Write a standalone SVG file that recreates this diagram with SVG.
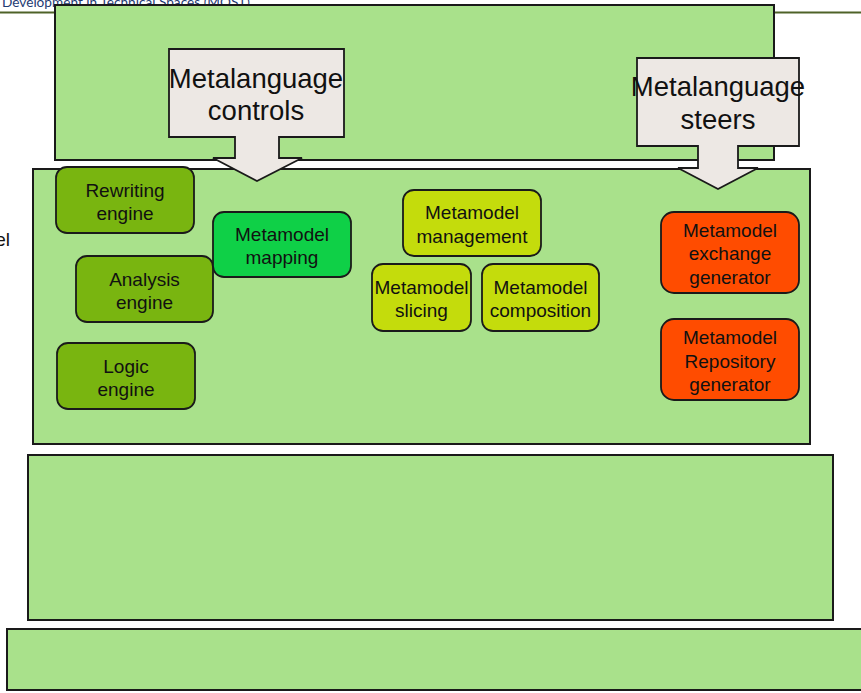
<svg xmlns="http://www.w3.org/2000/svg" width="861" height="693" viewBox="0 0 861 693">
<style>
  .layer { fill: #a9e18b; stroke: #1a1a1a; stroke-width: 2; }
  .node rect { stroke: #1a1a1a; stroke-width: 1.8; }
  .node text, .lbl { font-family: "Liberation Sans", Arial, sans-serif; font-size: 19px; fill: #111; text-anchor: middle; }
  .eng rect { fill: #79b510; }
  .map rect { fill: #0fd047; }
  .mm rect { fill: #c4dc0c; }
  .gen rect { fill: #ff4c00; }
  .callout path { fill: #ede8e4; stroke: #1a1a1a; stroke-width: 1.8; }
  .callout text { font-family: "Liberation Sans", Arial, sans-serif; font-size: 27.5px; fill: #111; text-anchor: middle; }
</style>
<rect x="0" y="0" width="861" height="693" fill="#ffffff"/>
<g id="header">
  <line x1="0" y1="12.5" x2="861" y2="12.5" stroke="#4f6228" stroke-width="2"/>
  <text x="2" y="7" font-family="Lato, 'Open Sans', sans-serif" font-size="12.5" fill="#1f3b73" textLength="248" lengthAdjust="spacingAndGlyphs">Development in Technical Spaces (MOST)</text>
  <text x="10" y="246" font-family="'Liberation Sans', Arial, sans-serif" font-size="19" fill="#111" text-anchor="end">el</text>
</g>
<g id="layers">
  <rect id="layer-top" class="layer" x="55" y="5" width="719" height="155"/>
  <rect id="layer-middle" class="layer" x="33" y="169" width="777" height="275"/>
  <rect id="layer-3" class="layer" x="28" y="455" width="805" height="165"/>
  <rect id="layer-4" class="layer" x="7" y="629" width="870" height="61"/>
</g>
<g id="connectors">
  <g id="callout-controls" class="callout">
    <path d="M169,49 H344 V137 H279 V158 H302 L257,181 L213,158 H235 V137 H169 Z"/>
    <text x="256" y="88">Metalanguage</text>
    <text x="256" y="120">controls</text>
  </g>
  <g id="callout-steers" class="callout">
    <path d="M637,58 H799 V146 H738 V168 H758 L718,189 L678,168 H698 V146 H637 Z"/>
    <text x="718" y="96">Metalanguage</text>
    <text x="718" y="129">steers</text>
  </g>
</g>
<g id="rewriting-engine" class="node eng">
  <rect x="56" y="167" width="138" height="66" rx="11"/>
  <text x="125" y="197">Rewriting</text>
  <text x="125" y="220">engine</text>
</g>
<g id="analysis-engine" class="node eng">
  <rect x="76" y="256" width="137" height="66" rx="11"/>
  <text x="144.5" y="286">Analysis</text>
  <text x="144.5" y="309">engine</text>
</g>
<g id="logic-engine" class="node eng">
  <rect x="57" y="343" width="138" height="66" rx="11"/>
  <text x="126" y="373">Logic</text>
  <text x="126" y="396">engine</text>
</g>
<g id="metamodel-mapping" class="node map">
  <rect x="213" y="212" width="138" height="65" rx="11"/>
  <text x="282" y="241">Metamodel</text>
  <text x="282" y="264">mapping</text>
</g>
<g id="metamodel-management" class="node mm">
  <rect x="403" y="190" width="138" height="66" rx="11"/>
  <text x="472" y="219">Metamodel</text>
  <text x="472" y="243">management</text>
</g>
<g id="metamodel-slicing" class="node mm">
  <rect x="372" y="264" width="99" height="67" rx="11"/>
  <text x="421.5" y="294">Metamodel</text>
  <text x="421.5" y="317">slicing</text>
</g>
<g id="metamodel-composition" class="node mm">
  <rect x="482" y="264" width="117" height="67" rx="11"/>
  <text x="540.5" y="294">Metamodel</text>
  <text x="540.5" y="317">composition</text>
</g>
<g id="metamodel-exchange-generator" class="node gen">
  <rect x="661" y="212" width="138" height="81" rx="13"/>
  <text x="730" y="237">Metamodel</text>
  <text x="730" y="260">exchange</text>
  <text x="730" y="284">generator</text>
</g>
<g id="metamodel-repository-generator" class="node gen">
  <rect x="661" y="319" width="138" height="81" rx="13"/>
  <text x="730" y="344">Metamodel</text>
  <text x="730" y="368">Repository</text>
  <text x="730" y="391">generator</text>
</g>
</svg>
